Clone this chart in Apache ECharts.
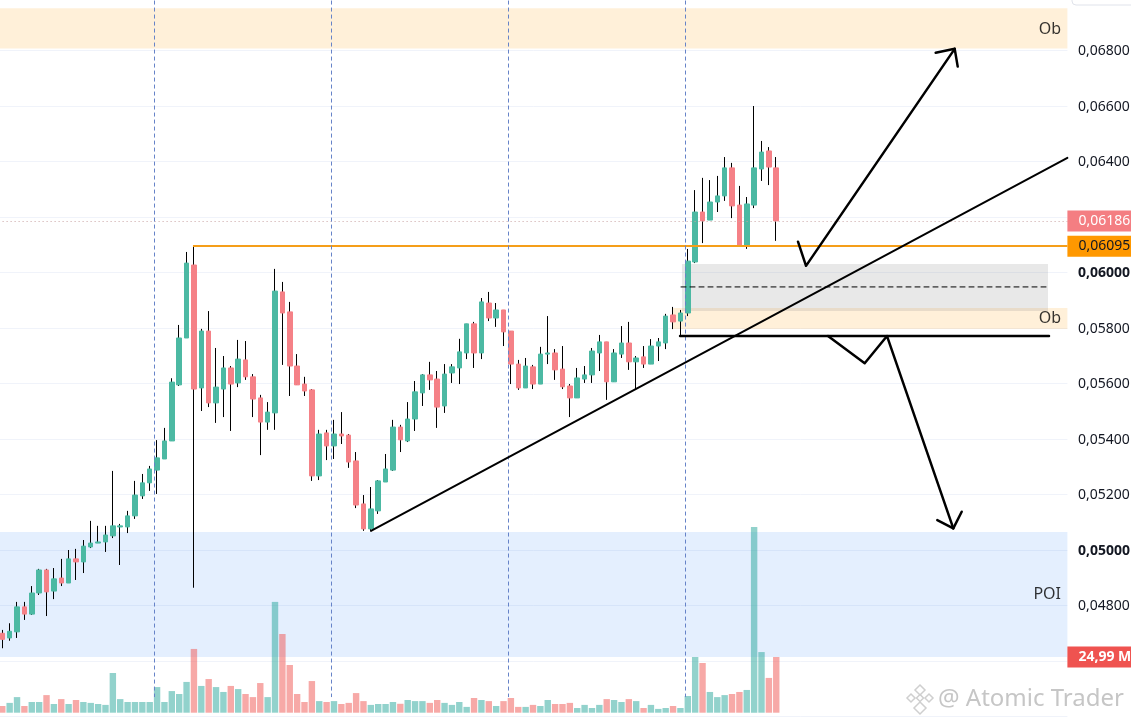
<!DOCTYPE html>
<html><head><meta charset="utf-8">
<style>html,body{margin:0;padding:0;background:#fff}#c{width:1131px;height:724px}</style>
<script src="https://cdn.jsdelivr.net/npm/echarts@6/dist/echarts.min.js"></script>
</head><body><div id="c"></div>
<script>
const opens=[.04700,.04683,.04705,.04795,.04769,.04845,.04928,.04852,.04899,.04881,.04968,.04957,.05011,.05025,.05029,.05051,.05083,.05083,.05123,.05195,.05242,.05288,.05328,.05393,.05595,.05764,.06027,.05584,.05789,.05530,.05580,.05656,.05602,.05685,.05624,.05548,.05461,.05494,.05930,.05858,.05663,.05598,.05577,.05267,.05422,.05375,.05418,.05414,.05321,.05166,.05076,.05141,.05245,.05288,.05443,.05393,.05472,.05566,.05631,.05616,.05519,.05638,.05656,.05710,.05815,.05710,.05890,.05836,.05865,.05789,.05670,.05584,.05660,.05598,.05706,.05710,.05652,.05591,.05548,.05616,.05631,.05710,.05750,.05606,.05706,.05746,.05678,.05696,.05670,.05735,.05746,.05847,.05825,.05854,.06038,.06218,.06189,.06254,.06276,.06377,.06243,.06096,.06243,.06373,.06438,.06377];
const closes=[.04678,.04707,.04795,.04769,.04845,.04928,.04849,.04896,.04881,.04968,.04957,.05014,.05025,.05029,.05054,.05087,.05087,.05123,.05198,.05242,.05292,.05332,.05393,.05605,.05764,.06034,.05580,.05789,.05530,.05587,.05656,.05598,.05688,.05624,.05544,.05461,.05497,.05933,.05854,.05663,.05595,.05573,.05267,.05418,.05375,.05418,.05411,.05317,.05162,.05076,.05148,.05249,.05292,.05443,.05397,.05472,.05570,.05631,.05613,.05515,.05634,.05660,.05714,.05815,.05710,.05894,.05836,.05865,.05786,.05670,.05584,.05663,.05598,.05706,.05710,.05649,.05588,.05548,.05620,.05631,.05717,.05750,.05606,.05710,.05746,.05678,.05692,.05670,.05735,.05750,.05843,.05822,.05854,.06041,.06218,.06186,.06254,.06276,.06377,.06240,.06096,.06247,.06377,.06434,.06380,.06186];
const highs=[.04712,.04736,.04813,.04813,.04870,.04932,.04932,.04935,.04968,.05000,.05004,.05036,.05105,.05087,.05087,.05285,.05094,.05141,.05249,.05274,.05303,.05396,.05440,.05619,.05811,.06074,.06096,.05797,.05861,.05728,.05699,.05663,.05757,.05753,.05634,.05559,.05533,.06013,.05966,.05894,.05706,.05624,.05580,.05433,.05433,.05469,.05497,.05418,.05353,.05198,.05227,.05252,.05346,.05469,.05451,.05533,.05609,.05634,.05678,.05645,.05670,.05670,.05761,.05815,.05822,.05908,.05930,.05890,.05865,.05789,.05685,.05692,.05667,.05732,.05843,.05724,.05735,.05598,.05656,.05663,.05728,.05775,.05750,.05724,.05807,.05822,.05699,.05735,.05760,.05764,.05851,.05876,.05865,.06085,.06297,.06341,.06333,.06348,.06416,.06395,.06312,.06272,.06600,.06474,.06452,.06416];
const lows=[.04646,.04673,.04683,.04748,.04766,.04838,.04762,.04823,.04870,.04881,.04892,.04917,.05007,.05025,.04993,.05043,.04946,.05061,.05112,.05184,.05213,.05202,.05328,.05393,.05591,.05764,.04864,.05501,.05515,.05458,.05479,.05429,.05587,.05613,.05479,.05342,.05433,.05433,.05667,.05555,.05595,.05555,.05249,.05252,.05324,.05328,.05382,.05296,.05151,.05069,.05069,.05130,.05245,.05285,.05353,.05389,.05429,.05519,.05577,.05440,.05494,.05602,.05598,.05688,.05656,.05688,.05825,.05804,.05735,.05598,.05577,.05584,.05580,.05598,.05670,.05613,.05580,.05479,.05548,.05602,.05602,.05645,.05541,.05606,.05692,.05649,.05580,.05656,.05670,.05681,.05724,.05796,.05771,.05843,.06034,.06106,.06189,.06218,.06258,.06196,.06096,.06085,.06232,.06330,.06315,.06114];
const volumes=[3.0,4.4,7.0,3.0,4.8,4.8,7.9,3.9,6.1,3.9,5.7,4.8,4.4,3.9,3.5,17.8,6.1,4.8,4.8,4.8,4.8,11.5,4.8,9.7,8.4,13.8,28.6,12.0,15.1,11.5,9.3,12.0,10.6,8.4,7.0,13.3,7.0,49.7,35.3,21.4,8.4,4.8,14.2,5.2,4.8,5.2,3.9,4.4,8.8,5.2,3.5,3.9,3.9,4.8,4.0,5.7,5.2,5.2,4.4,5.7,4.4,3.5,4.8,2.6,6.6,5.7,5.2,3.0,5.2,6.6,2.6,2.6,3.5,3.0,5.7,3.9,3.9,4.4,2.1,3.5,2.1,3.5,6.1,5.7,4.8,6.1,5.2,2.1,3.5,1.7,2.1,3.0,2.1,7.5,24.99,22.3,9.3,7.0,7.9,8.4,9.3,10.2,83.3,27.2,15.6,24.99];
const tickLabels=['0,04800','0,05000','0,05200','0,05400','0,05600','0,05800','0,06000','0,06400','0,06600','0,06800'];
const boldTicks=['0,05000','0,06000'];
const barSlots=145;
const barLabels=Array.from({length:barSlots},(_,i)=>String(i));

// Drawings in [bar index, price]
const zones=[
  {x:[-0.5,144.5],y:[.06952,.06807],color:'rgba(255,152,0,0.15)'},
  {x:[-0.5,144.5],y:[.05065,.04614],color:'rgba(33,120,243,0.12)'},
  {x:[90.99,144.5],y:[.05872,.05796],color:'rgba(255,152,0,0.15)'},
  {x:[92.21,141.87],y:[.06031,.05861],color:'rgba(128,128,128,0.18)'}
];
const verticals=[20.6,44.6,68.6,92.6];
const trendLine=[[50.02,.05069],[144.5,.06413]];
const supportLine=[[91.95,.05771],[142,.05771]];
const midLine=[[92.08,.05948],[142,.05948]];
const arrowUp=[[107.95,.06111],[109.04,.06024],[129.21,.06806]];
const arrowUpHead=[[126.63,.06792],[129.21,.06806],[129.62,.06742]];
const arrowDown=[[112.02,.05771],[117,.05673],[120.03,.05771],[129.02,.05078]];
const arrowDownHead=[[126.85,.05108],[129.02,.05078],[130.16,.05138]];
const zoneTexts=[[143.63,.06877,'Ob'],[143.63,.05836,'Ob'],[143.63,.04841,'POI']];
const lastPrice=.06186, keyLevel=.06095, keyLevelStart=25.87, lastVolume=24.99;

const UP='#4cb9a3',DOWN='#f58187',FONT='"Noto Sans"',INK='#131722';
const wickRows=opens.map((o,i)=>[o,closes[i],lows[i],highs[i]]);
const bodyRows=opens.map((o,i)=>[o,closes[i],Math.min(o,closes[i]),Math.max(o,closes[i])]);
const volRows=volumes.map((v,i)=>({value:v,itemStyle:{color:closes[i]>=opens[i]?'rgba(38,166,154,0.5)':'rgba(239,83,80,0.5)'}}));
const fmt=v=>v.toFixed(5).replace('.',',');
const poly=(name,data,width,extra)=>({name,type:'line',xAxisIndex:1,yAxisIndex:0,data,symbol:'none',silent:true,clip:false,z:6,
  lineStyle:Object.assign({color:'#000',width,cap:'round',join:'round'},extra||{})});
const tag=(text,bg,color,weight)=>({show:true,position:'end',distance:0,formatter:text,backgroundColor:bg,color,fontFamily:FONT,fontSize:14,fontWeight:weight||'normal',
  width:70,height:20,lineHeight:21,padding:[1,0,0,11],align:'left',verticalAlign:'middle'});

const chart=echarts.init(document.getElementById('c'),null,{renderer:'canvas'});
chart.setOption({
  animation:false,backgroundColor:'#fff',
  grid:[
    {left:-1.4,top:-5,width:1068.8,height:721.5,containLabel:false,outerBoundsMode:'none'},
    {left:-1.4,top:527,width:1068.8,height:185.7,containLabel:false,outerBoundsMode:'none'}
  ],
  xAxis:[
    {type:'category',gridIndex:0,data:barLabels,show:false,boundaryGap:true},
    {type:'value',gridIndex:0,min:-0.5,max:144.5,show:false},
    {type:'category',gridIndex:1,data:barLabels,show:false,boundaryGap:true}
  ],
  yAxis:[
    {type:'value',gridIndex:0,position:'right',min:.044,max:.07,interval:.002,scale:true,
      axisLine:{show:false},axisTick:{show:false},
      splitLine:{show:true,lineStyle:{color:'#f0f3fa',width:1}},
      axisLabel:{show:true,margin:10.6,padding:[2,0,0,0],fontFamily:FONT,fontSize:14,color:INK,
        formatter:v=>{const s=fmt(v);if(!tickLabels.includes(s))return '';return boldTicks.includes(s)?'{b|'+s+'}':s;},
        rich:{b:{fontFamily:FONT,fontSize:14,fontWeight:'bold',color:INK}}}},
    {type:'value',gridIndex:1,min:0,max:83.3,show:false,splitLine:{show:false}}
  ],
  series:[
    {name:'Zones',type:'line',xAxisIndex:1,yAxisIndex:0,data:[],z:1,silent:true,
      markArea:{silent:true,data:zones.map(z=>[{coord:[z.x[0],z.y[0]],itemStyle:{color:z.color}},{coord:[z.x[1],z.y[1]]}])}},
    {name:'Volume',type:'bar',xAxisIndex:2,yAxisIndex:1,data:volRows,barWidth:6.4,z:2,silent:true,
      markLine:{silent:true,symbol:'none',lineStyle:{color:'transparent',width:0},data:[{yAxis:lastVolume}],
        label:tag('24,99 M','#ef5350','#fff','bold')}},
    {name:'Wicks',type:'candlestick',xAxisIndex:0,yAxisIndex:0,data:wickRows,barWidth:1,z:3,silent:true,
      itemStyle:{color:'#000',color0:'#000',borderColor:'#000',borderColor0:'#000',borderWidth:1}},
    {name:'Bodies',type:'candlestick',xAxisIndex:0,yAxisIndex:0,data:bodyRows,barWidth:5,z:4,silent:true,
      itemStyle:{color:UP,color0:DOWN,borderColor:UP,borderColor0:DOWN,borderWidth:1}},
    {name:'Levels',type:'line',xAxisIndex:1,yAxisIndex:0,data:[],z:5,silent:true,clip:false,
      markLine:{silent:true,symbol:'none',animation:false,data:[
        [{coord:[-0.5,lastPrice],lineStyle:{color:'#c9a3a3',type:[1,3],width:1},label:tag(fmt(lastPrice),'#f47e82','#fff')},{coord:[144.5,lastPrice]}],
        [{coord:[keyLevelStart,keyLevel],lineStyle:{color:'#f59e19',type:'solid',width:2},label:tag(fmt(keyLevel),'#ff9800',INK)},{coord:[144.5,keyLevel]}],
        ...verticals.map(v=>[{coord:[v,.0698],lineStyle:{color:'#6683c8',type:[4,3],width:1},label:{show:false}},{coord:[v,.0447]}])
      ]}},
    poly('Trend',trendLine,2),
    poly('Support',supportLine,2.5),
    poly('Mid',midLine,1,{type:[5,4]}),
    poly('Up',arrowUp,2.5),
    poly('UpHead',arrowUpHead,2.5),
    poly('Down',arrowDown,2.5),
    poly('DownHead',arrowDownHead,2.5),
    {name:'Labels',type:'scatter',xAxisIndex:1,yAxisIndex:0,symbolSize:0,z:7,silent:true,data:zoneTexts,
      label:{show:true,position:'left',distance:0,fontFamily:FONT,fontSize:16,color:'#000',formatter:p=>p.data[2]}}
  ],
  graphic:[
    {type:'rect',shape:{x:1072,y:-6,width:70,height:11,r:4},style:{fill:'#fff',stroke:'#e0e3eb'},silent:true},
    {type:'text',x:938,y:687,silent:true,style:{text:'@ Atomic Trader',fontFamily:FONT,fontSize:24,fill:'#c6c6c6'}},
    ...[[920,690,5],[911,698,4],[929,698,4],[920,698,3.5],[920,708,6]].map(d=>({type:'polygon',silent:true,
      shape:{points:[[d[0],d[1]-d[2]],[d[0]+d[2],d[1]],[d[0],d[1]+d[2]],[d[0]-d[2],d[1]]]},style:{fill:'none',stroke:'#cfcfcf',lineWidth:1.5}}))
  ]
});
</script></body></html>
